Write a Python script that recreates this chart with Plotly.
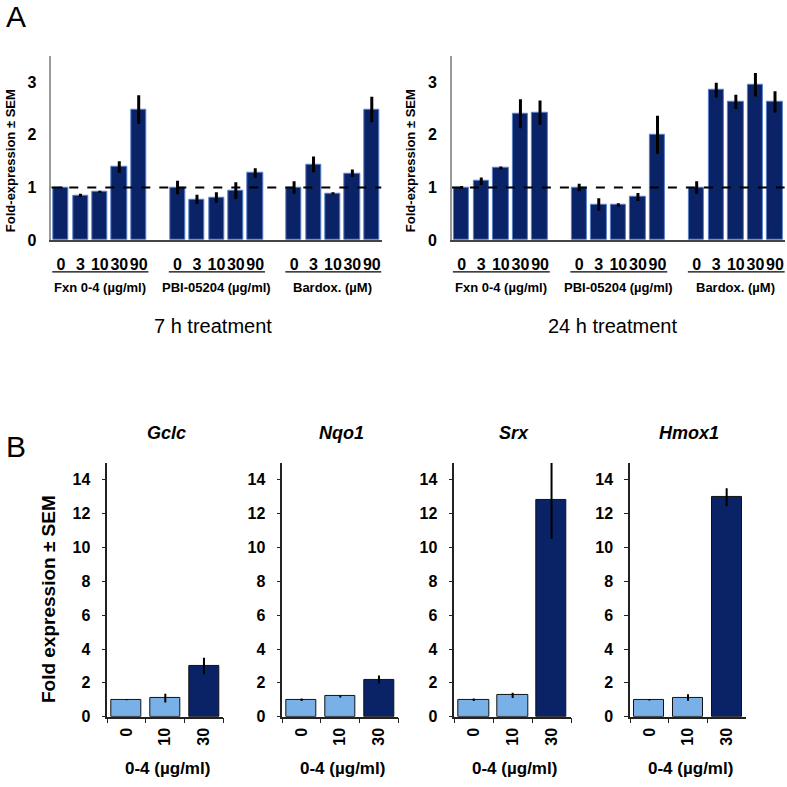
import plotly.graph_objects as go

W = H = 787
FONT = "Arial, Liberation Sans, sans-serif"
NAVY = "#0a2266"
LIGHT = "#7ab0e8"

# ---------------- data ----------------
doses_top = ["0", "3", "10", "30", "90"]
groups_top = ["Fxn 0-4 (µg/ml)", "PBI-05204 (µg/ml)", "Bardox. (µM)"]

h7_fxn = [1.0, 0.85, 0.92, 1.39, 2.48]
h7_fxn_err = [0.02, 0.03, 0.02, 0.11, 0.27]
h7_pbi = [1.0, 0.775, 0.81, 0.94, 1.275]
h7_pbi_err = [0.13, 0.09, 0.10, 0.16, 0.09]
h7_bar = [1.0, 1.44, 0.89, 1.27, 2.48]
h7_bar_err = [0.12, 0.15, 0.02, 0.07, 0.24]

h24_fxn = [1.0, 1.12, 1.37, 2.40, 2.42]
h24_fxn_err = [0.03, 0.07, 0.03, 0.275, 0.23]
h24_pbi = [1.0, 0.68, 0.67, 0.82, 2.0]
h24_pbi_err = [0.07, 0.115, 0.03, 0.075, 0.36]
h24_bar = [1.0, 2.85, 2.625, 2.95, 2.625]
h24_bar_err = [0.12, 0.14, 0.135, 0.225, 0.20]

top_titles = ["7 h treatment", "24 h treatment"]

doses_bottom = ["0", "10", "30"]
genes = ["Gclc", "Nqo1", "Srx", "Hmox1"]
gclc = [1.0, 1.1, 3.0]
gclc_err = [0.03, 0.26, 0.49]
nqo1 = [1.0, 1.2, 2.2]
nqo1_err = [0.07, 0.06, 0.24]
srx = [1.0, 1.26, 12.83]
srx_err = [0.07, 0.15, 2.33]
hmox1 = [1.0, 1.13, 12.97]
hmox1_err = [0.04, 0.19, 0.53]
bottom_colors = [LIGHT, LIGHT, NAVY]

# ---------------- helpers ----------------
def px(x):
    return x / W

def py(y):
    return 1 - y / H

def note(x, y, text, size, weight="normal", angle=0, xref="paper", style="normal"):
    return dict(x=x, y=y, xref=xref, yref="paper", text=text, showarrow=False,
                xanchor="center", yanchor="middle", textangle=angle,
                font=dict(family=FONT, size=size, color="black", weight=weight, style=style))

fig = go.Figure()
annotations = []
shapes = []

# ---------------- top panels ----------------
top_panels = [
    dict(data=[(h7_fxn, h7_fxn_err), (h7_pbi, h7_pbi_err), (h7_bar, h7_bar_err)],
         xdom=(51.3, 381.5), ytitle_x=10, title=top_titles[0], title_x=213),
    dict(data=[(h24_fxn, h24_fxn_err), (h24_pbi, h24_pbi_err), (h24_bar, h24_bar_err)],
         xdom=(451.9, 784.8), ytitle_x=410, title=top_titles[1], title_x=612),
]
n_slot = len(doses_top) + 1
for pi, p in enumerate(top_panels):
    ax = pi + 1
    xs, ys, es, tv, tt = [], [], [], [], []
    for gi, (vals, errs) in enumerate(p["data"]):
        for di, d in enumerate(doses_top):
            pos = gi * n_slot + di
            xs.append(pos); ys.append(vals[di]); es.append(errs[di])
            tv.append(pos); tt.append(d)
    xa = "x" if ax == 1 else f"x{ax}"
    ya = "y" if ax == 1 else f"y{ax}"
    fig.add_trace(go.Bar(
        x=xs, y=ys, width=0.78, xaxis=xa, yaxis=ya,
        marker=dict(color=NAVY, line=dict(color="#5b80c8", width=1)),
        error_y=dict(type="data", array=es, visible=True, color="black",
                     thickness=3, width=0),
        showlegend=False))
    xmax = (len(groups_top) - 1) * n_slot + len(doses_top) - 0.5
    fig.update_layout(**{
        ("xaxis" if ax == 1 else f"xaxis{ax}"): dict(
            domain=[px(p["xdom"][0]), px(p["xdom"][1])], range=[-0.5, xmax],
            anchor=ya, tickvals=tv, ticktext=tt, ticks="outside", ticklen=9,
            tickangle=0,
            tickcolor="rgba(0,0,0,0)", showline=True, linecolor="#444",
            linewidth=1.5, showgrid=False, zeroline=False,
            tickfont=dict(family=FONT, size=16, color="black", weight="bold")),
        ("yaxis" if ax == 1 else f"yaxis{ax}"): dict(
            domain=[py(243), py(56.4)], range=[0, 3.5], anchor=xa,
            tickvals=[0, 1, 2, 3], ticks="outside", ticklen=10,
            tickcolor="rgba(0,0,0,0)", showline=True, linecolor="#999",
            linewidth=1.5, showgrid=False, zeroline=False,
            tickfont=dict(family=FONT, size=16, color="black", weight="bold")),
    })
    shapes.append(dict(type="line", xref=xa, yref=ya, x0=-0.5, x1=xmax,
                       y0=1, y1=1, line=dict(color="black", width=2, dash="dash")))
    for gi, g in enumerate(groups_top):
        x0 = gi * n_slot - 0.45
        x1 = gi * n_slot + len(doses_top) - 0.5
        shapes.append(dict(type="line", xref=xa, yref="paper", x0=x0, x1=x1,
                           y0=py(275), y1=py(275), line=dict(color="black", width=1.2)))
        annotations.append(note(gi * n_slot + (len(doses_top) - 1) / 2, py(291), g, 13,
                                "bold", xref=xa))
    annotations.append(note(px(p["ytitle_x"]), py(163), "Fold-expression ± SEM", 13,
                            "bold", angle=-90))
    annotations.append(note(px(p["title_x"]), py(330), p["title"], 20))

# ---------------- bottom panels ----------------
bottom_data = [(gclc, gclc_err), (nqo1, nqo1_err), (srx, srx_err), (hmox1, hmox1_err)]
bottom_xdom = [(107.3, 223.3), (282.3, 398.3), (454.3, 571.0), (630.0, 746.0)]
for bi, (gene, (vals, errs), xd) in enumerate(zip(genes, bottom_data, bottom_xdom)):
    ax = bi + 3
    xa, ya = f"x{ax}", f"y{ax}"
    fig.add_trace(go.Bar(
        x=doses_bottom, y=vals, width=0.78, xaxis=xa, yaxis=ya,
        marker=dict(color=bottom_colors, line=dict(color="#111", width=1)),
        error_y=dict(type="data", array=errs, visible=True, color="black",
                     thickness=2, width=0),
        showlegend=False))
    fig.update_layout(**{
        f"xaxis{ax}": dict(
            domain=[px(xd[0]), px(xd[1])], type="category", anchor=ya,
            range=[-0.5, 2.5], tickson="boundaries", ticks="outside", ticklen=5,
            tickcolor="#222", tickangle=-90, ticklabelstandoff=3,
            showline=True, linecolor="#222",
            linewidth=1.5, showgrid=False, zeroline=False,
            tickfont=dict(family=FONT, size=16, color="black", weight="bold")),
        f"yaxis{ax}": dict(
            domain=[py(725), py(468.3)], range=[0, 15], anchor=xa,
            tickvals=list(range(0, 15, 2)), ticks="outside", ticklen=4,
            tickcolor="#222", ticklabelstandoff=8, showline=True, linecolor="#222",
            linewidth=1.5, showgrid=False, zeroline=False,
            tickfont=dict(family=FONT, size=16, color="black", weight="bold")),
    })
    annotations.append(note(px((xd[0] + xd[1]) / 2 + 1), py(438), gene, 18, "bold",
                            style="italic"))
    annotations.append(note(px((xd[0] + xd[1]) / 2 + 2), py(777), "0-4 (µg/ml)", 17, "bold"))

annotations.append(note(px(48), py(606), "Fold expression ± SEM", 19, "bold", angle=-90))
annotations.append(note(px(16), py(17), "A", 30))
annotations.append(note(px(16), py(452), "B", 30))

fig.update_layout(
    width=W, height=H, autosize=False,
    margin=dict(l=0, r=0, t=0, b=0),
    paper_bgcolor="white", plot_bgcolor="white",
    annotations=annotations, shapes=shapes,
    bargap=0, font=dict(family=FONT),
)

fig.write_html("out.html", config={"displayModeBar": False},
               post_script="document.body.style.margin='0';")
